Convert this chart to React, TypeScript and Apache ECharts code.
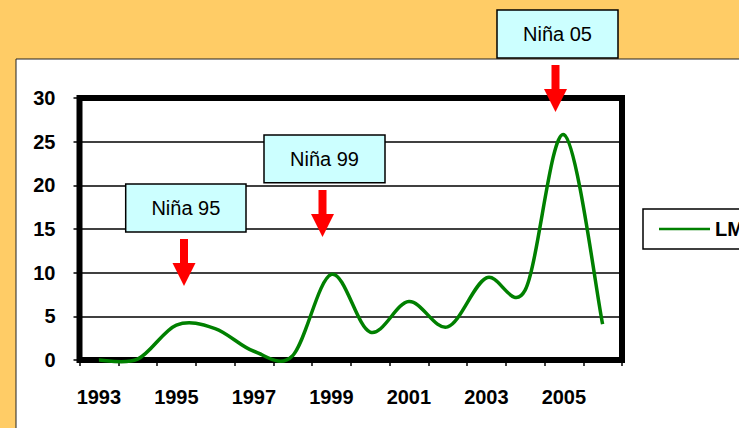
import React, { useEffect, useRef } from "react";
import * as echarts from "echarts";

const years = ["1993","1994","1995","1996","1997","1998","1999","2000","2001","2002","2003","2004","2005","2006"];
const lmValues = [0, 0.1, 4.0, 3.6, 1.0, 0.5, 9.8, 3.2, 6.7, 3.8, 9.4, 8.0, 25.8, 4.1];
const yTicks = { min: 0, max: 30, interval: 5 };
const seriesName = "LMC";
const annotations = ["Niña 95", "Niña 99", "Niña 05"];

const FONT = "'Liberation Sans', Arial, sans-serif";
const GREEN = "#008000";

function box(x: number, y: number, w: number, h: number, label: string) {
  return {
    type: "group",
    z: 100,
    children: [
      { type: "rect", z: 100, shape: { x, y, width: w, height: h }, style: { fill: "#CCFFFF", stroke: "#000", lineWidth: 1.5 } },
      { type: "text", z: 101, x: x + w / 2, y: y + h / 2, style: { text: label, fill: "#000", font: `20px ${FONT}`, align: "center", verticalAlign: "middle" } },
    ],
  };
}

function arrow(cx: number, top: number, tip: number) {
  const sh = 4, hw = 11.5, headTop = top + (tip - top) * 0.51;
  return {
    type: "polygon",
    z: 100,
    shape: {
      points: [
        [cx - sh, top], [cx + sh, top], [cx + sh, headTop], [cx + hw, headTop],
        [cx, tip], [cx - hw, headTop], [cx - sh, headTop],
      ],
    },
    style: { fill: "#FF0000" },
  };
}

// Excel-like smoothed curve (Catmull-Rom style Bezier, no clamping)
function smoothPath(pts: number[][]) {
  const n = pts.length;
  const t = 1 / 6;
  let d = `M${pts[0][0]},${pts[0][1]}`;
  for (let i = 0; i < n - 1; i++) {
    const p0 = pts[Math.max(0, i - 1)];
    const p1 = pts[i];
    const p2 = pts[i + 1];
    const p3 = pts[Math.min(n - 1, i + 2)];
    const c1x = p1[0] + (p2[0] - p0[0]) * t;
    const c1y = p1[1] + (p2[1] - p0[1]) * t;
    const c2x = p2[0] - (p3[0] - p1[0]) * t;
    const c2y = p2[1] - (p3[1] - p1[1]) * t;
    d += ` C${c1x},${c1y} ${c2x},${c2y} ${p2[0]},${p2[1]}`;
  }
  return d;
}

export default function App() {
  const ref = useRef<HTMLDivElement>(null);
  useEffect(() => {
    document.body.style.margin = "0";
    const chart = echarts.init(ref.current!, null, { renderer: "svg" });
    chart.setOption({
      animation: false,
      backgroundColor: "#FFCC66",
      grid: {
        left: 79.5, top: 98, width: 542.5, height: 262,
        show: true, borderColor: "#000", borderWidth: 6, backgroundColor: "transparent",
        containLabel: false,
      },
      xAxis: {
        type: "category",
        data: years,
        boundaryGap: true,
        axisLine: { show: false },
        axisTick: { show: true, interval: 0, length: 6, lineStyle: { color: "#000", width: 1.5 } },
        axisLabel: { interval: 1, margin: 27, color: "#000", fontSize: 20, fontWeight: "bold", fontFamily: FONT },
        splitLine: { show: false },
      },
      yAxis: {
        type: "value",
        min: yTicks.min, max: yTicks.max, interval: yTicks.interval,
        axisLine: { show: false },
        axisTick: { show: true, length: 6, lineStyle: { color: "#000", width: 1.5 } },
        axisLabel: { margin: 24, color: "#000", fontSize: 20, fontWeight: "bold", fontFamily: FONT },
        splitLine: { show: true, lineStyle: { color: "#000", width: 1.5 } },
      },
      legend: {
        left: 643, top: 209,
        orient: "vertical",
        borderColor: "#000", borderWidth: 1.5,
        backgroundColor: "#fff",
        padding: [10, 30, 10, 16],
        icon: "rect",
        itemWidth: 51, itemHeight: 2.5,
        itemStyle: { color: GREEN },
        textStyle: { color: "#000", fontSize: 20, fontWeight: "bold", fontFamily: FONT },
        data: [seriesName],
      },
      series: [
        {
          name: seriesName,
          type: "custom",
          data: lmValues.map((v, i) => [i, v]),
          encode: { x: 0, y: 1 },
          itemStyle: { color: GREEN },
          z: 5,
          renderItem: (params: any, api: any) => {
            if (params.dataIndex !== 0) return null;
            const pts = lmValues.map((v, i) => api.coord([i, v]));
            return {
              type: "path",
              shape: { pathData: smoothPath(pts) },
              style: { fill: "none", stroke: GREEN, lineWidth: 3.5 },
            };
          },
        },
      ],
      graphic: [
        { type: "rect", z: -10, silent: true, shape: { x: 16, y: 59, width: 800, height: 500 }, style: { fill: "#fff", stroke: "#222", lineWidth: 1 } },
        box(125.7, 184, 120.3, 48, annotations[0]),
        box(264, 135, 121, 47.7, annotations[1]),
        box(497, 10, 121, 48, annotations[2]),
        arrow(184, 239, 286),
        arrow(322.5, 190, 237),
        arrow(555.5, 65, 112),
      ],
    });
    return () => chart.dispose();
  }, []);
  return <div ref={ref} style={{ position: "absolute", left: 0, top: 0, width: 739, height: 428 }} />;
}
